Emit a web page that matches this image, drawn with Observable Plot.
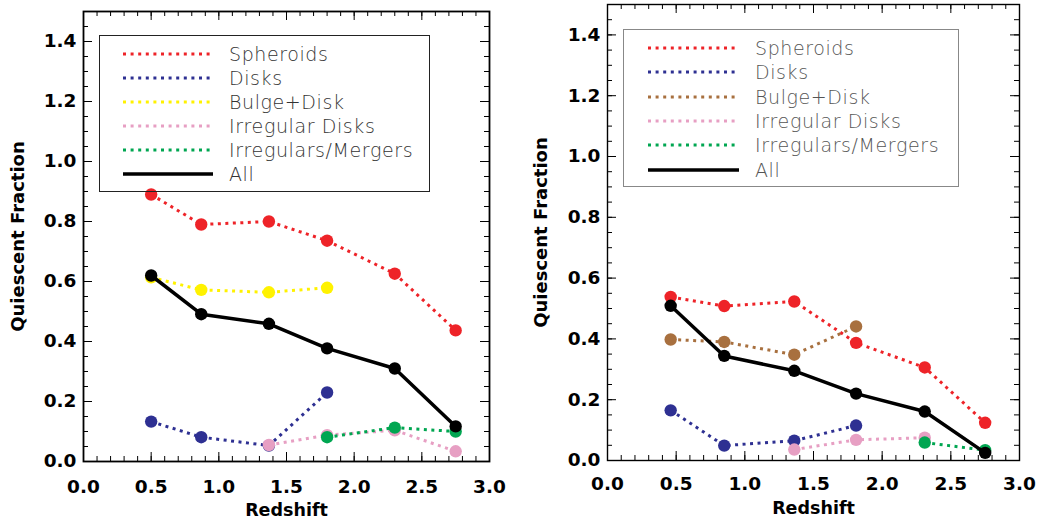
<!DOCTYPE html>
<html><head><meta charset="utf-8">
<script src="https://cdn.jsdelivr.net/npm/d3@7"></script>
<script src="https://cdn.jsdelivr.net/npm/@observablehq/plot@0.6"></script>
<style>
html,body{margin:0;padding:0;background:#fff;}
#wrap{display:flex;width:1038px;height:521px;overflow:hidden;}
.panel{position:relative;flex:none;}
.legend{position:absolute;box-sizing:border-box;}
.legend .row{position:absolute;left:0;height:24px;display:flex;align-items:center;white-space:nowrap;}
.legend .lab{font-family:"DejaVu Sans",sans-serif;font-weight:200;font-size:19px;letter-spacing:0.6px;}
</style></head><body><div id="wrap"></div>
<script>
// ---- data ----
const seriesNames = ["Spheroids", "Disks", "Bulge+Disk", "Irregular Disks", "Irregulars/Mergers", "All"];
const colorsLeft  = ["#ee2328", "#2e3092", "#fff200", "#e79fc3", "#00a651", "#000000"];
const colorsRight = ["#ee2328", "#2e3092", "#a8703f", "#e79fc3", "#00a651", "#000000"];

const zLeft  = [0.50, 0.87, 1.37, 1.80, 2.30, 2.75];
const spheroidsL = [0.890, 0.790, 0.800, 0.736, 0.626, 0.437];
const disksL     = [0.133, 0.081, 0.053, 0.230, null, null];
const bulgeL     = [0.614, 0.572, 0.564, 0.579, null, null];
const irrDisksL  = [null, null, 0.055, 0.088, 0.104, 0.034];
const irrMergL   = [null, null, null, 0.081, 0.113, 0.100];
const allL       = [0.620, 0.491, 0.459, 0.377, 0.310, 0.117];

const zRight = [0.46, 0.85, 1.36, 1.81, 2.31, 2.75];
const spheroidsR = [0.538, 0.508, 0.523, 0.387, 0.306, 0.124];
const disksR     = [0.165, 0.049, 0.065, 0.115, null, null];
const bulgeR     = [0.398, 0.390, 0.348, 0.441, null, null];
const irrDisksR  = [null, null, 0.036, 0.068, 0.075, null];
const irrMergR   = [null, null, null, null, 0.059, 0.034];
const allR       = [0.509, 0.344, 0.295, 0.220, 0.161, 0.025];

const xMajor = [0, 0.5, 1.0, 1.5, 2.0, 2.5, 3.0];
const xTickLabels = ["0.0", "0.5", "1.0", "1.5", "2.0", "2.5", "3.0"];
const yMajor = [0, 0.2, 0.4, 0.6, 0.8, 1.0, 1.2, 1.4];
const yTickLabels = ["0.0", "0.2", "0.4", "0.6", "0.8", "1.0", "1.2", "1.4"];
const xMinor = d3.range(0, 31).map(i => i / 10);
const yMinor = d3.range(0, 31).map(i => i / 20);
const xLabel = "Redshift";
const yLabel = "Quiescent Fraction";

function makePanel(cfg) {
  const {width, height, ml, mr, mt, mb, z, values, colors, frameWidth, yTitleDx, xTitleDy, xPad, yPad, legend} = cfg;
  const iw = width - ml - mr, ih = height - mt - mb;
  const rows = [];
  seriesNames.forEach((name, i) => values[i].forEach((v, j) => {
    if (v != null) rows.push({series: name, z: z[j], q: v});
  }));
  const marks = [];
  const tickStyle = {stroke: "#000", strokeWidth: 1};
  marks.push(Plot.tickX(xMinor, {x: d => d, insetTop: ih - 5, ...tickStyle}));
  marks.push(Plot.tickX(xMinor, {x: d => d, insetBottom: ih - 5, ...tickStyle}));
  marks.push(Plot.tickX(xMajor, {x: d => d, insetTop: ih - 9, ...tickStyle}));
  marks.push(Plot.tickX(xMajor, {x: d => d, insetBottom: ih - 9, ...tickStyle}));
  marks.push(Plot.tickY(yMinor, {y: d => d, insetRight: iw - 5, ...tickStyle}));
  marks.push(Plot.tickY(yMinor, {y: d => d, insetLeft: iw - 5, ...tickStyle}));
  marks.push(Plot.tickY(yMajor, {y: d => d, insetRight: iw - 9, ...tickStyle}));
  marks.push(Plot.tickY(yMajor, {y: d => d, insetLeft: iw - 9, ...tickStyle}));
  seriesNames.forEach((name, i) => {
    const d = rows.filter(r => r.series === name);
    const solid = name === "All";
    marks.push(Plot.line(d, {x: "z", y: "q", stroke: colors[i], strokeWidth: solid ? 3.5 : 3,
      strokeDasharray: solid ? null : "3,4.5", strokeLinecap: "butt"}));
    marks.push(Plot.dot(d, {x: "z", y: "q", r: 6.2, fill: colors[i]}));
  });
  marks.push(Plot.frame({stroke: "#000", strokeWidth: frameWidth}));
  marks.push(Plot.axisX(xMajor, {anchor: "bottom", tickSize: 0, tickPadding: xPad, fontSize: 18.5, fontWeight: "bold",
    fill: "#000", tickFormat: d => xTickLabels[xMajor.indexOf(d)], label: null}));
  marks.push(Plot.axisY(yMajor, {anchor: "left", tickSize: 0, tickPadding: yPad, fontSize: 18.5, fontWeight: "bold",
    fill: "#000", tickFormat: d => yTickLabels[yMajor.indexOf(d)], label: null}));
  marks.push(Plot.text([xLabel], {text: d => d, frameAnchor: "bottom", dy: xTitleDy, lineAnchor: "middle",
    textAnchor: "middle", fontSize: 17.5, fontWeight: "bold", fill: "#000"}));
  marks.push(Plot.text([yLabel], {text: d => d, frameAnchor: "left", dx: yTitleDx, rotate: -90, lineAnchor: "middle",
    textAnchor: "middle", fontSize: 18, fontWeight: "bold", fill: "#000"}));

  const svg = Plot.plot({
    width, height, marginLeft: ml, marginRight: mr, marginTop: mt, marginBottom: mb,
    x: {domain: [0, 3]}, y: {domain: [0, 1.5]},
    style: {fontFamily: "DejaVu Sans, sans-serif", background: "#fff", overflow: "visible"},
    marks
  });
  const div = document.createElement("div");
  div.className = "panel";
  div.style.width = width + "px";
  div.style.height = height + "px";
  div.appendChild(svg);

  // legend overlay
  const lg = d3.select(div).append("div").attr("class", "legend")
    .style("left", legend.left + "px").style("top", legend.top + "px")
    .style("width", legend.width + "px").style("height", legend.height + "px")
    .style("border", `1.3px solid ${legend.border}`);
  seriesNames.forEach((name, i) => {
    const solid = name === "All";
    const row = lg.append("div").attr("class", "row")
      .style("top", (legend.first + i * legend.step - 12) + "px");
    const s = row.append("svg").attr("width", legend.textX).attr("height", 24).style("flex", "none");
    s.append("line").attr("x1", legend.lineX1).attr("x2", legend.lineX2).attr("y1", 12).attr("y2", 12)
      .attr("stroke", colors[i]).attr("stroke-width", solid ? 3.5 : 3)
      .attr("stroke-dasharray", solid ? null : "3,4.6");
    row.append("span").attr("class", "lab").style("color", legend.textColor).text(name);
  });
  return div;
}

const wrap = document.getElementById("wrap");
wrap.appendChild(makePanel({
  width: 520, height: 521, ml: 83, mr: 31, mt: 11, mb: 60,
  z: zLeft, values: [spheroidsL, disksL, bulgeL, irrDisksL, irrMergL, allL], colors: colorsLeft,
  frameWidth: 1.8, yTitleDx: -65, xTitleDy: 49, xPad: 18, yPad: 7,
  legend: {left: 99, top: 35, width: 331, height: 157, border: "#222", textColor: "#333",
    first: 18, step: 24, lineX1: 23, lineX2: 113, textX: 129}
}));
wrap.appendChild(makePanel({
  width: 518, height: 521, ml: 87, mr: 19, mt: 4, mb: 61,
  z: zRight, values: [spheroidsR, disksR, bulgeR, irrDisksR, irrMergR, allR], colors: colorsRight,
  frameWidth: 1.4, yTitleDx: -66, xTitleDy: 48, xPad: 16, yPad: 7,
  legend: {left: 103, top: 29, width: 336, height: 158, border: "#888", textColor: "#555",
    first: 17.7, step: 24.4, lineX1: 24, lineX2: 115, textX: 131}
}));
</script></body></html>
